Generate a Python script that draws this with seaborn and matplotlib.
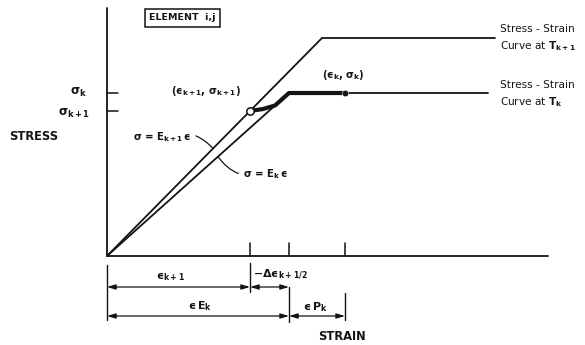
import matplotlib
matplotlib.use("Agg")
import matplotlib.pyplot as plt
import pandas as pd
import seaborn as sns

sns.set_style("white")
plt.rcParams["font.family"] = ["DejaVu Sans"]
# upright bold lettering for the symbols, like the drafted original
plt.rcParams["mathtext.fontset"] = "custom"
plt.rcParams["mathtext.rm"] = "DejaVu Sans:bold"
plt.rcParams["mathtext.it"] = "DejaVu Sans:bold"
plt.rcParams["mathtext.bf"] = "DejaVu Sans:bold"
plt.rcParams["mathtext.sf"] = "DejaVu Sans:bold"

# curve data (strain / stress, arbitrary units)
strain_tk1 = [0, 21.5, 38.8]
stress_tk1 = [0, 21.8, 21.8]
strain_tk = [0, 18.2, 38.1]
stress_tk = [0, 16.3, 16.3]
# path followed by the element from (eps_k+1, sig_k+1) to (eps_k, sig_k)
strain_path = [14.3, 15.6, 16.8, 18.2, 23.8]
stress_path = [14.5, 14.7, 15.05, 16.3, 16.3]

eps_k1 = 14.3
eps_e_k = 18.2
eps_k = 23.8
sig_k = 16.3
sig_k1 = 14.5

ink = "#141414"
EPS = "\u03f5"  # lunate epsilon as in the original lettering

fig = plt.figure(figsize=(5.85, 3.45), dpi=100)
ax = fig.add_axes([0, 0, 1, 1])

# axes of the diagram
ax.plot([0, 0], [0, 24.8], color=ink, lw=1.3)
ax.plot([0, 44.1], [0, 0], color=ink, lw=1.3)
for s in [sig_k, sig_k1]:
    ax.plot([0, 1.1], [s, s], color=ink, lw=1.1)
for e in [eps_k1, eps_e_k, eps_k]:
    ax.plot([e, e], [0, 1.3], color=ink, lw=1.1)

curves = pd.DataFrame({
    "strain": strain_tk1 + strain_tk,
    "stress": stress_tk1 + stress_tk,
    "curve": ["Tk+1"] * len(strain_tk1) + ["Tk"] * len(strain_tk),
})
sns.lineplot(data=curves, x="strain", y="stress", units="curve", estimator=None,
             sort=False, color=ink, lw=1.3, ax=ax)
path = pd.DataFrame({"strain": strain_path, "stress": stress_path})
sns.lineplot(data=path, x="strain", y="stress", sort=False, estimator=None,
             color=ink, lw=3.0, ax=ax)
sns.scatterplot(x=[eps_k], y=[sig_k], color=ink, s=22, ax=ax, zorder=5)
sns.scatterplot(x=[eps_k1], y=[sig_k1], color="white", edgecolor=ink,
                linewidth=1.1, s=28, ax=ax, zorder=5)
ax.set_xlim(-10.7, 47.8)
ax.set_ylim(-8.9, 25.6)
ax.axis("off")

tkw = dict(color=ink, fontweight="bold")

ax.text(7.5, 23.8, "ELEMENT  i,j", ha="center", va="center", fontsize=6.8,
        bbox=dict(boxstyle="square,pad=0.45", fc="white", ec=ink, lw=1.1), **tkw)
ax.text(9.9, 16.5, f"(${EPS}_{{k+1}}$, $\\sigma_{{k+1}}$)", ha="center", va="center",
        fontsize=7.3, **tkw)
ax.text(23.6, 18.1, f"(${EPS}_{{k}}$, $\\sigma_{{k}}$)", ha="center", va="center",
        fontsize=7.3, **tkw)
ax.text(-2.9, 16.4, r"$\sigma_{k}$", ha="center", va="center", fontsize=8.5, **tkw)
ax.text(-3.3, 14.3, r"$\sigma_{k+1}$", ha="center", va="center", fontsize=8.5, **tkw)
ax.text(-7.3, 12.0, "STRESS", ha="center", va="center", fontsize=8.3, **tkw)
ax.text(23.5, -8.1, "STRAIN", ha="center", va="center", fontsize=8.3, **tkw)

ax.text(39.3, 21.75, "Stress - Strain\nCurve at $T_{k+1}$", ha="left", va="center",
        fontsize=7.6, linespacing=1.45, color=ink)
ax.text(39.3, 16.15, "Stress - Strain\nCurve at $T_{k}$", ha="left", va="center",
        fontsize=7.6, linespacing=1.45, color=ink)

ax.annotate(f"$\\sigma$ = $E_{{k+1}}\\,{EPS}$", xy=(10.6, 10.75), xytext=(2.6, 11.9),
            ha="left", va="center", fontsize=7.3,
            arrowprops=dict(arrowstyle="-", color=ink, lw=0.9,
                            connectionstyle="arc3,rad=-0.35", shrinkA=1, shrinkB=0),
            **tkw)
ax.annotate(f"$\\sigma$ = $E_{{k}}\\,{EPS}$", xy=(11.1, 9.95), xytext=(13.6, 8.2),
            ha="left", va="center", fontsize=7.3,
            arrowprops=dict(arrowstyle="-", color=ink, lw=0.9,
                            connectionstyle="arc3,rad=-0.35", shrinkA=1, shrinkB=0),
            **tkw)

# dimension lines under the strain axis
row1, row2 = -3.1, -6.0
ax.plot([0, 0], [-0.9, -6.4], color=ink, lw=1.0)
ax.plot([eps_k1, eps_k1], [-0.7, -3.6], color=ink, lw=1.0)
ax.plot([eps_e_k, eps_e_k], [-3.1, -6.6], color=ink, lw=1.0)
ax.plot([eps_k, eps_k], [-3.7, -6.4], color=ink, lw=1.0)
dims = [(0, eps_k1, row1), (eps_k1, eps_e_k, row1),
        (0, eps_e_k, row2), (eps_e_k, eps_k, row2)]
for a, b, r in dims:
    ax.annotate("", xy=(a, r), xytext=(b, r),
                arrowprops=dict(arrowstyle="<|-|>,head_length=0.5,head_width=0.15",
                                color=ink, lw=0.9, shrinkA=0, shrinkB=0))

ax.text(6.3, -2.1, f"${EPS}_{{k+1}}$", ha="center", va="center", fontsize=8, **tkw)
ax.text(14.6, -1.9, f"$-\\Delta{EPS}_{{k+1/2}}$", ha="left", va="center",
        fontsize=8, **tkw)
ax.text(9.3, -5.0, f"${EPS}\\,E_{{k}}$", ha="center", va="center", fontsize=8, **tkw)
ax.text(20.8, -5.1, f"${EPS}\\,P_{{k}}$", ha="center", va="center", fontsize=8, **tkw)

fig.savefig("out.png", dpi=100, facecolor="white")
